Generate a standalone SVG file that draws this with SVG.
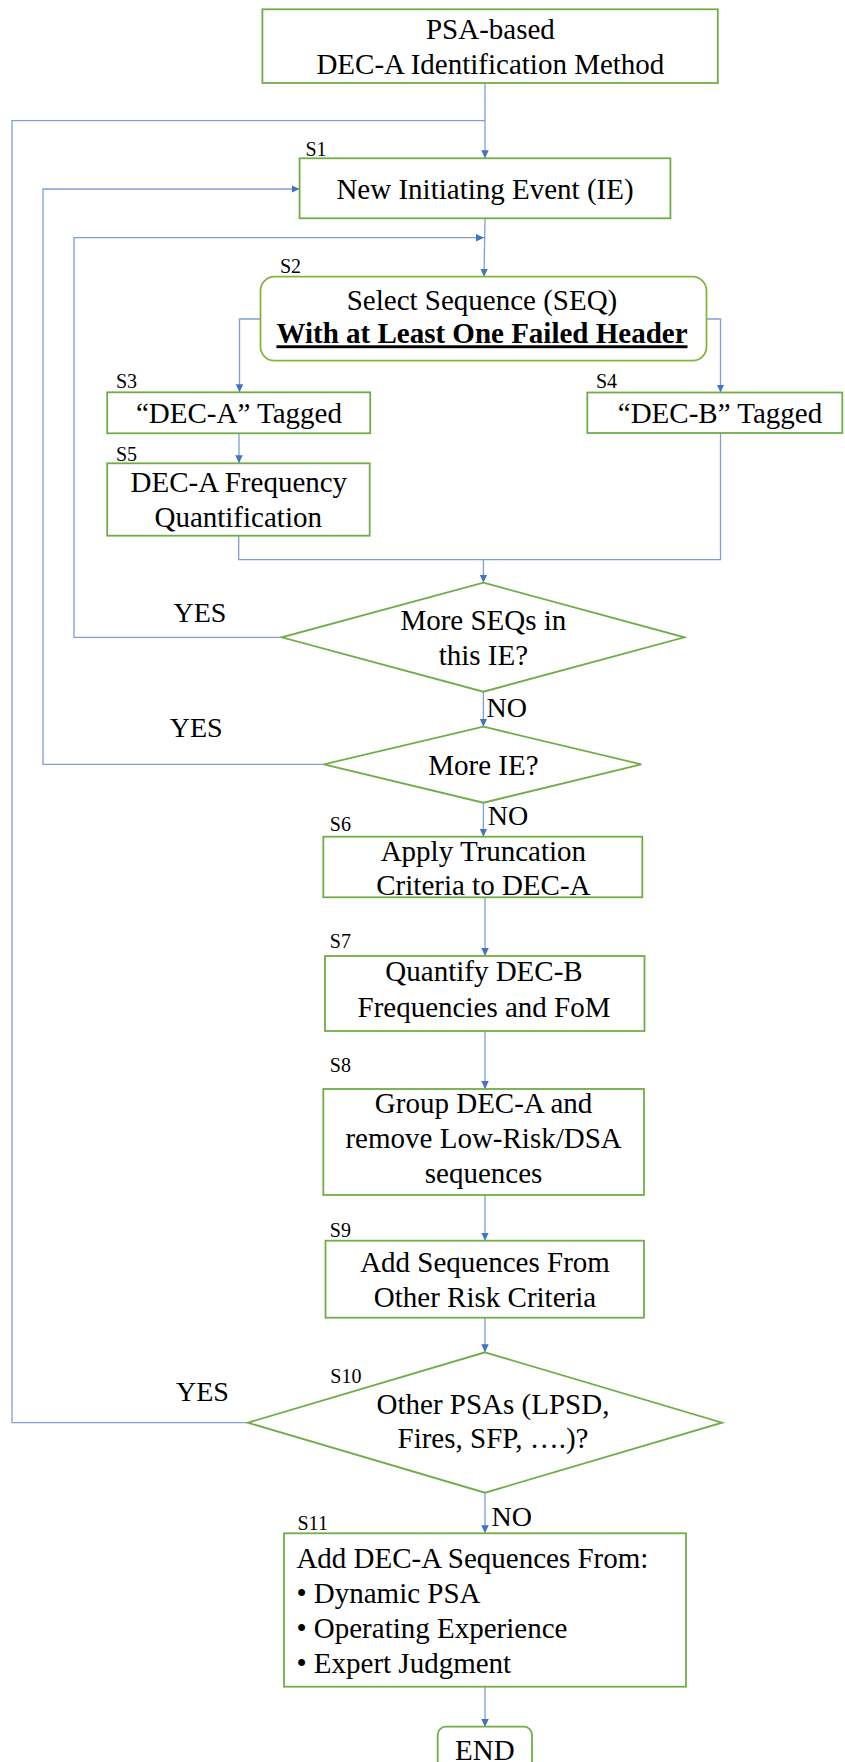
<svg xmlns="http://www.w3.org/2000/svg" width="845" height="1762" viewBox="0 0 845 1762">
<defs>
<marker id="ah" markerUnits="userSpaceOnUse" markerWidth="9" markerHeight="8" refX="8" refY="3.75" orient="auto">
<path d="M0,0 L8,3.75 L0,7.5 z" fill="#4472C4"/>
</marker>
<style>
.box{fill:#fff;stroke:#70AD47;stroke-width:1.8}
.rbox{fill:#fff;stroke:#84B53F;stroke-width:1.8}
.con{fill:none;stroke:#7F9ED8;stroke-width:1.3}
.arr{marker-end:url(#ah)}
text{font-family:"Liberation Serif","Times New Roman",serif;fill:#000}
.t{font-size:29px;text-anchor:middle}
.tl{font-size:29px}
.b{font-weight:bold;text-decoration:underline}
.s{font-size:20px}
.yn{font-size:28px}
</style>
</defs>
<rect width="845" height="1762" fill="#fff"/>
<g id="connectors">
<path class="con" d="M248,1422.7 H12 V120.7 H485"/>
<path class="con arr" d="M485,83 V158.3"/>
<path class="con arr" d="M324,764.3 H43 V189 H299.6"/>
<path class="con arr" d="M485,218.3 L484,276.7"/>
<path class="con arr" d="M282,637.3 H74 V237.7 H484"/>
<path class="con arr" d="M260.5,319 H239.5 V392.3"/>
<path class="con arr" d="M706.5,319 H720.5 V392.5"/>
<path class="con arr" d="M239,433.3 V463.3"/>
<path class="con" d="M238.7,535.7 V559.7 H720.5 V433"/>
<path class="con arr" d="M483.4,559.7 V582.7"/>
<path class="con arr" d="M483.4,691.7 V726.7"/>
<path class="con arr" d="M483.4,802.7 V836.7"/>
<path class="con arr" d="M485,897.3 V956"/>
<path class="con arr" d="M485,1031 V1089"/>
<path class="con arr" d="M485,1195 V1240.7"/>
<path class="con arr" d="M485,1317.7 V1352.3"/>
<path class="con arr" d="M485,1492.7 V1533.3"/>
<path class="con arr" d="M485,1686.7 V1727"/>
</g>
<g id="start">
<rect class="box" x="262.4" y="9.3" width="455.4" height="73.7"/>
<text class="t" x="490.4" y="39.3">PSA-based</text>
<text class="t" x="490.4" y="74">DEC-A Identification Method</text>
</g>
<g id="s1">
<text class="s" x="305.5" y="155.7">S1</text>
<rect class="box" x="299.6" y="158.3" width="370.8" height="60"/>
<text class="t" x="485" y="199">New Initiating Event (IE)</text>
</g>
<g id="s2">
<text class="s" x="280" y="273.3">S2</text>
<rect class="rbox" x="260.5" y="276.7" width="446" height="84" rx="14" ry="14"/>
<text class="t" x="482" y="310">Select Sequence (SEQ)</text>
<text class="t b" x="482" y="343.3">With at Least One Failed Header</text>
</g>
<g id="s3">
<text class="s" x="115.9" y="388.3">S3</text>
<rect class="box" x="107.2" y="392.3" width="263" height="41"/>
<text class="t" x="239" y="423.3">“DEC-A” Tagged</text>
</g>
<g id="s4">
<text class="s" x="596" y="388.3">S4</text>
<rect class="box" x="587.3" y="392.5" width="255" height="40.5"/>
<text class="t" x="720" y="423.3">“DEC-B” Tagged</text>
</g>
<g id="s5">
<text class="s" x="115.9" y="460.7">S5</text>
<rect class="box" x="107.2" y="463.3" width="262.5" height="72.4"/>
<text class="t" x="238.8" y="492.2">DEC-A Frequency</text>
<text class="t" x="238.2" y="527">Quantification</text>
</g>
<g id="d1">
<polygon class="box" points="483.4,582.7 684.4,637.3 483.4,691.7 281.8,637.3"/>
<text class="t" x="483.4" y="630">More SEQs in</text>
<text class="t" x="483.4" y="665">this IE?</text>
<text class="yn" x="173.5" y="621.7">YES</text>
<text class="yn" x="486.6" y="716.7">NO</text>
</g>
<g id="d2">
<polygon class="box" points="483.4,726.7 641.3,764.3 483.4,802.7 323.9,764.3"/>
<text class="t" x="483.4" y="775">More IE?</text>
<text class="yn" x="169.8" y="737.3">YES</text>
<text class="yn" x="487.7" y="825">NO</text>
</g>
<g id="s6">
<text class="s" x="329.8" y="830.7">S6</text>
<rect class="box" x="323.3" y="836.7" width="319" height="60.6"/>
<text class="t" x="483.4" y="860.7">Apply Truncation</text>
<text class="t" x="483.4" y="895">Criteria to DEC-A</text>
</g>
<g id="s7">
<text class="s" x="329.8" y="948.3">S7</text>
<rect class="box" x="325" y="956" width="319.5" height="75"/>
<text class="t" x="484" y="981">Quantify DEC-B</text>
<text class="t" x="484" y="1016.5">Frequencies and FoM</text>
</g>
<g id="s8">
<text class="s" x="329.8" y="1071.7">S8</text>
<rect class="box" x="323.3" y="1089" width="320.7" height="106"/>
<text class="t" x="483.6" y="1112.7">Group DEC-A and</text>
<text class="t" x="483.6" y="1148">remove Low-Risk/DSA</text>
<text class="t" x="483.6" y="1182.7">sequences</text>
</g>
<g id="s9">
<text class="s" x="329.8" y="1236.7">S9</text>
<rect class="box" x="325.5" y="1240.7" width="318.5" height="77"/>
<text class="t" x="485" y="1272">Add Sequences From</text>
<text class="t" x="485" y="1307">Other Risk Criteria</text>
</g>
<g id="s10">
<polygon class="box" points="485,1352.3 722.1,1422.7 485,1492.7 247.9,1422.7"/>
<text class="s" x="330.3" y="1383.3">S10</text>
<text class="t" x="493" y="1414">Other PSAs (LPSD,</text>
<text class="t" x="493" y="1448">Fires, SFP, ….)?</text>
<text class="yn" x="176" y="1400.7">YES</text>
<text class="yn" x="491.5" y="1526">NO</text>
</g>
<g id="s11">
<text class="s" x="297.5" y="1530">S11</text>
<rect class="box" x="284" y="1533.3" width="402" height="153.4"/>
<text class="tl" x="296.4" y="1568">Add DEC-A Sequences From:</text>
<text class="tl" x="296.4" y="1603.3">• Dynamic PSA</text>
<text class="tl" x="296.4" y="1638.3">• Operating Experience</text>
<text class="tl" x="296.4" y="1672.5">• Expert Judgment</text>
</g>
<g id="end">
<rect class="box" x="437.7" y="1726.7" width="94.3" height="45" rx="8" ry="8"/>
<text class="t" x="484.8" y="1759.5">END</text>
</g>
</svg>
